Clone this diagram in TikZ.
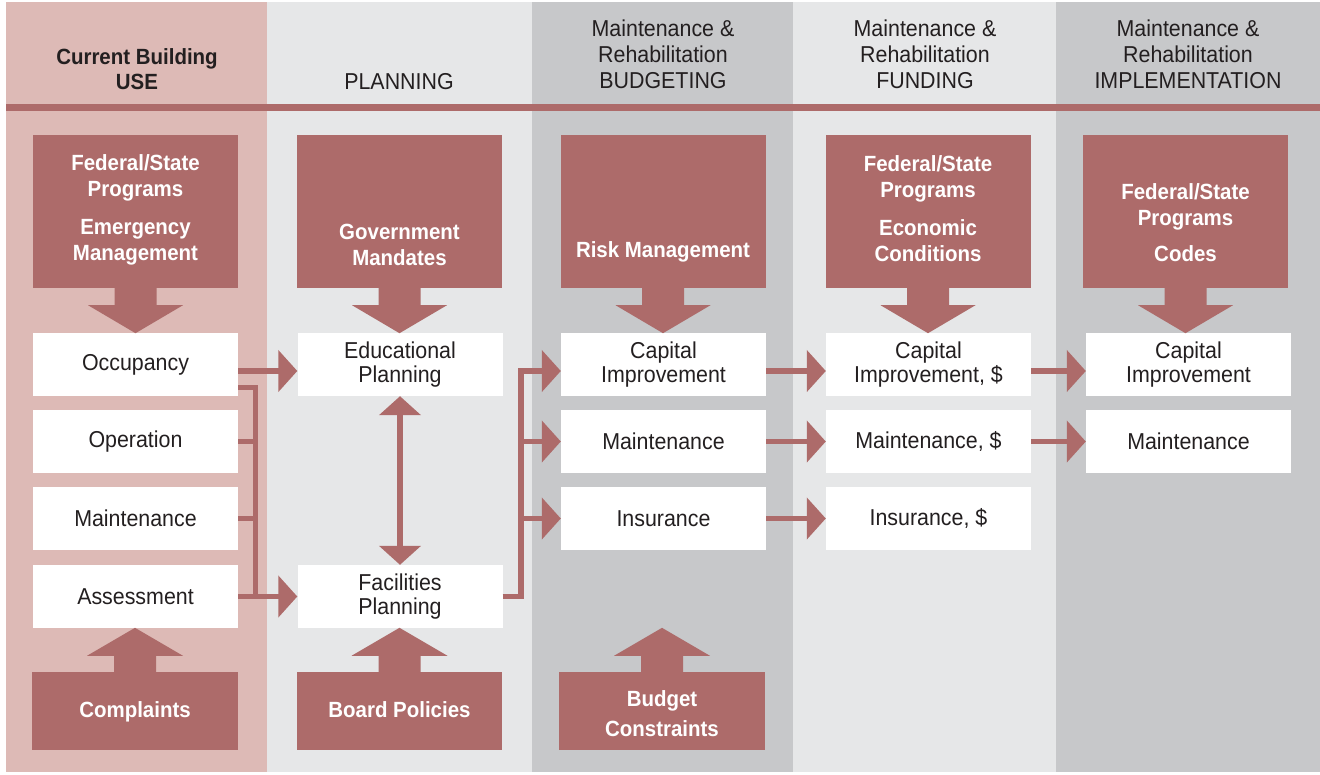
\documentclass[tikz,border=0pt]{standalone}
\usepackage{fontspec}
\setmainfont{Liberation Sans}[FakeStretch=0.93]
\usetikzlibrary{arrows.meta,calc}
\definecolor{brick}{HTML}{AD6B6A}
\definecolor{pinkbg}{HTML}{DDBAB6}
\definecolor{lightbg}{HTML}{E6E7E8}
\definecolor{midbg}{HTML}{C7C8CA}
\definecolor{ink}{HTML}{231F20}
\newcommand\blockdown[1]{\fill[brick] (#1.south) ++(-21,0) -- ++(0,17) -- ++(-26.5,0) -- ++(47.5,28) -- ++(47.5,-28) -- ++(-26.5,0) -- ++(0,-17) -- cycle;}
\newcommand\blockup[1]{\fill[brick] (#1.north) ++(-21,0) -- ++(0,-16) -- ++(-27,0) -- ++(48,-28) -- ++(48,28) -- ++(-27,0) -- ++(0,16) -- cycle;}
\begin{document}
\begin{tikzpicture}[x=1pt,y=-1pt,
  whitebox/.style={fill=white, minimum width=205pt, minimum height=63pt, inner sep=0pt, text=ink, align=center, font=\fontsize{23}{24}\selectfont},
  redbox/.style={fill=brick, minimum width=205pt, inner sep=0pt},
  redtxt/.style={text=white, align=center, font=\fontsize{22}{26}\selectfont\bfseries, inner sep=0pt},
  headtxt/.style={text=ink, align=center, font=\fontsize{23}{26}\selectfont, inner sep=0pt},
  conn/.style={draw=brick, line width=5.5pt},
  >={Triangle[length=19pt,width=41pt]},
]
\useasboundingbox (0,0) rectangle (1320,774);
% backgrounds
\fill[white] (0,0) rectangle (1320,774);
\fill[pinkbg] (6,2) rectangle (267,772);
\fill[lightbg] (267,2) rectangle (532,772);
\fill[midbg] (532,2) rectangle (793,772);
\fill[lightbg] (793,2) rectangle (1056,772);
\fill[midbg] (1056,2) rectangle (1320,772);
\fill[brick] (6,104) rectangle (1320,111);
% headers
\node[headtxt, font=\fontsize{22}{25}\selectfont\bfseries] (h1) at (137,69) {Current Building\\USE};
\node[headtxt] (h2) at (399,81.7) {PLANNING};
\node[headtxt] (h3) at (663,54) {Maintenance \&\\Rehabilitation\\BUDGETING};
\node[headtxt] (h4) at (925,54) {Maintenance \&\\Rehabilitation\\FUNDING};
\node[headtxt] (h5) at (1188,54) {Maintenance \&\\Rehabilitation\\IMPLEMENTATION};
% top red boxes
\node[redbox, minimum height=153pt] (t1) at (135.5,211.5) {};
\node[redbox, minimum height=153pt] (t2) at (399.5,211.5) {};
\node[redbox, minimum height=153pt] (t3) at (663,211.5) {};
\node[redbox, minimum height=153pt] (t4) at (928,211.5) {};
\node[redbox, minimum height=153pt] (t5) at (1185.5,211.5) {};
\node[redtxt] (t1x) at (135.5,210) {Federal/State\\Programs\\[12pt]Emergency\\Management};
\node[redtxt] (t2x) at (399.5,245) {Government\\Mandates};
\node[redtxt] (t3x) at (663,252) {Risk Management};
\node[redtxt] (t4x) at (928,209) {Federal/State\\Programs\\[12pt]Economic\\Conditions};
\node[redtxt] (t5x) at (1185.5,223) {Federal/State\\Programs\\[10pt]Codes};
% white boxes
\node[whitebox] (w11) at (135.5,364.5) {Occupancy};
\node[whitebox] (w12) at (135.5,441.5) {Operation};
\node[whitebox] (w13) at (135.5,518.5) {Maintenance};
\node[whitebox] (w14) at (135.5,596.5) {Assessment};
\node[whitebox] (w21) at (400,364.5) {Educational\\Planning};
\node[whitebox] (w24) at (400,596.5) {Facilities\\Planning};
\node[whitebox] (w31) at (663.5,364.5) {Capital\\Improvement};
\node[whitebox] (w32) at (663.5,441.5) {Maintenance};
\node[whitebox] (w33) at (663.5,518.5) {Insurance};
\node[whitebox] (w41) at (928.5,364.5) {Capital\\Improvement, \$};
\node[whitebox] (w42) at (928.5,441.5) {Maintenance, \$};
\node[whitebox] (w43) at (928.5,518.5) {Insurance, \$};
\node[whitebox] (w51) at (1188.5,364.5) {Capital\\Improvement};
\node[whitebox] (w52) at (1188.5,441.5) {Maintenance};
% bottom red boxes
\node[redbox, minimum height=78pt, minimum width=206pt] (b1) at (135,711) {};
\node[redbox, minimum height=78pt] (b2) at (399.5,711) {};
\node[redbox, minimum height=78pt, minimum width=206pt] (b3) at (662,711) {};
\node[redtxt] (b1x) at (135,712) {Complaints};
\node[redtxt] (b2x) at (399.5,709.8) {Board Policies};
\node[redtxt, font=\fontsize{22}{30}\selectfont\bfseries] (b3x) at (662,713.7) {Budget\\Constraints};
% block arrows
\blockdown{t1}
\blockdown{t2}
\blockdown{t3}
\blockdown{t4}
\blockdown{t5}
\blockup{b1}
\blockup{b2}
\blockup{b3}
% connectors column 1 -> 2
\coordinate (bus1) at ($(w14.east)+(17.5,0)$);
\draw[conn,->] ($(w11.east)+(0,6.5)$) -- ($(w21.west)+(0,6.5)$);
\draw[conn] ($(w11.east)+(0,23)$) -| (bus1);
\draw[conn] (w12.east) -- (bus1 |- w12.east);
\draw[conn] (w13.east) -- (bus1 |- w13.east);
\draw[conn,->] (w14.east) -- (w24.west);
% planning double arrow
\draw[conn,<->] (w21.south) -- (w24.north);
% column 2 -> 3
\coordinate (bus3) at ($(w24.east)+(18.5,0)$);
\draw[conn,->] (w24.east) -- (bus3) |- ($(w31.west)+(0,6.5)$);
\draw[conn,->] (bus3 |- w32.west) -- (w32.west);
\draw[conn,->] (bus3 |- w33.west) -- (w33.west);
% column 3 -> 4
\draw[conn,->] ($(w31.east)+(0,6.5)$) -- ($(w41.west)+(0,6.5)$);
\draw[conn,->] (w32.east) -- (w42.west);
\draw[conn,->] (w33.east) -- (w43.west);
% column 4 -> 5
\draw[conn,->] ($(w41.east)+(0,6.5)$) -- ($(w51.west)+(0,6.5)$);
\draw[conn,->] (w42.east) -- (w52.west);
\end{tikzpicture}
\end{document}
